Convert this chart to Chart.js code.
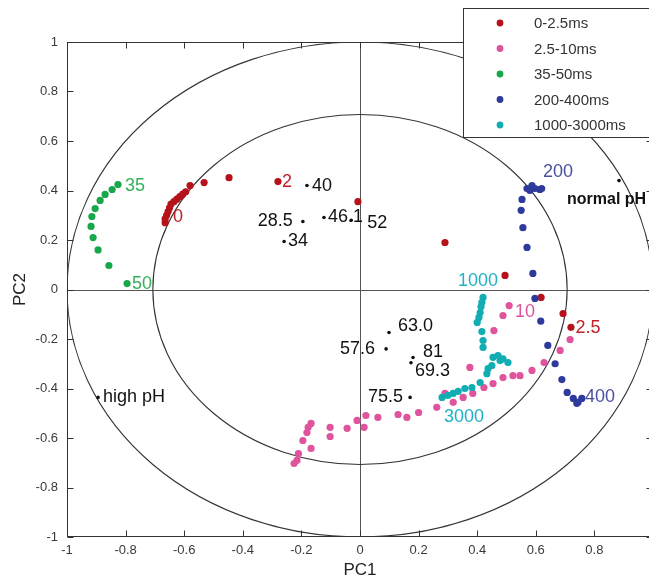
<!DOCTYPE html>
<html><head><meta charset="utf-8">
<script src="https://cdn.jsdelivr.net/npm/chart.js@4"></script>
<style>html,body{margin:0;padding:0;overflow:hidden;background:#fff}canvas{display:block}</style>
</head><body>
<canvas id="c" width="670" height="582"></canvas>
<script>
// ---------- data ----------
const seriesNames = ['0-2.5ms','2.5-10ms','35-50ms','200-400ms','1000-3000ms'];

const red_x = [-0.665,-0.665,-0.66,-0.655,-0.65,-0.645,-0.635,-0.625,-0.615,-0.605,-0.595,-0.58,-0.532,-0.447,-0.28,-0.007,0.29,0.495,0.618,0.693,0.72];
const red_y = [0.27,0.285,0.30,0.315,0.33,0.345,0.355,0.365,0.375,0.385,0.395,0.42,0.432,0.452,0.436,0.355,0.19,0.057,-0.032,-0.097,-0.153];

const pink_x = [0.717,0.683,0.628,0.587,0.546,0.522,0.488,0.454,0.423,0.385,0.352,0.318,0.29,0.262,0.20,0.16,0.13,0.061,0.02,-0.01,0.014,-0.044,-0.102,-0.102,-0.167,-0.177,-0.181,-0.195,-0.167,-0.21,-0.225,-0.215,0.375,0.457,0.488,0.509];
const pink_y = [-0.202,-0.246,-0.295,-0.327,-0.348,-0.348,-0.356,-0.38,-0.396,-0.42,-0.436,-0.456,-0.42,-0.476,-0.497,-0.517,-0.505,-0.517,-0.509,-0.529,-0.557,-0.561,-0.557,-0.594,-0.541,-0.557,-0.578,-0.61,-0.642,-0.663,-0.703,-0.69,-0.315,-0.166,-0.105,-0.065];

const green_x = [-0.826,-0.846,-0.870,-0.887,-0.904,-0.915,-0.918,-0.911,-0.894,-0.857,-0.795];
const green_y = [0.424,0.404,0.384,0.36,0.327,0.295,0.255,0.21,0.16,0.097,0.024];

const blue_x = [0.57,0.587,0.597,0.614,0.62,0.58,0.553,0.55,0.556,0.57,0.59,0.597,0.617,0.641,0.666,0.689,0.707,0.728,0.744,0.757,0.74];
const blue_y = [0.408,0.42,0.408,0.404,0.408,0.40,0.364,0.32,0.25,0.17,0.065,-0.036,-0.128,-0.226,-0.30,-0.364,-0.416,-0.44,-0.456,-0.44,-0.46];

const cyan_x = [0.42,0.416,0.413,0.41,0.406,0.40,0.416,0.42,0.42,0.454,0.471,0.488,0.505,0.478,0.45,0.437,0.433,0.41,0.382,0.358,0.335,0.318,0.30,0.28];
const cyan_y = [-0.032,-0.052,-0.07,-0.093,-0.113,-0.133,-0.17,-0.206,-0.234,-0.274,-0.267,-0.28,-0.295,-0.287,-0.307,-0.32,-0.34,-0.376,-0.396,-0.40,-0.412,-0.42,-0.428,-0.436];

// reference (black) points
const markerNames = ['40','28.5','46.1','52','34','63.0','57.6','81','69.3','75.5','high pH','normal pH'];
const markerX = [-0.181,-0.195,-0.123,-0.03,-0.259,0.099,0.089,0.181,0.174,0.171,-0.894,0.884];
const markerY = [0.42,0.275,0.291,0.28,0.194,-0.174,-0.24,-0.275,-0.296,-0.436,-0.436,0.44];

// time annotations of the series
const annoText = ['0','2','2.5','10','35','50','200','400','1000','3000'];
const annoSeries = [0,0,0,1,2,2,3,3,4,4];
const annoX = [-0.621,-0.249,0.778,0.563,-0.768,-0.744,0.676,0.819,0.403,0.355];
const annoY = [0.291,0.436,-0.154,-0.093,0.42,0.024,0.473,-0.436,0.036,-0.517];

const tickValues = [-1,-0.8,-0.6,-0.4,-0.2,0,0.2,0.4,0.6,0.8,1];
const circleRadii = [1, 0.707];

// ---------- styles ----------
const FONT = '"Liberation Sans", Arial, sans-serif';
const pointColors = ['#b5121b','#e0539d','#18a84b','#2e3a9c','#12adb3'];
const textColors  = ['#c0202a','#d9559c','#35b05a','#4a4fa0','#22b1c2'];
const markerStyle = [ // dx, dy, align, font
  [5,0,'left','18px'],[-10,0,'right','18px'],[4,0,'left','18px'],[16,3,'left','18px'],[4,0,'left','18px'],
  [9,-7,'left','18px'],[-11,0,'right','18px'],[10,-6,'left','18px'],[4,8,'left','18px'],[-7,0,'right','18px'],
  [5,0,'left','18px'],[-52,19,'left','bold 16px']
];

const xy = (xs, ys) => xs.map((v,i)=>({x:v, y:ys[i]}));
const seriesData = [xy(red_x,red_y), xy(pink_x,pink_y), xy(green_x,green_y), xy(blue_x,blue_y), xy(cyan_x,cyan_y)];

const datasets = seriesNames.map((n,i)=>({
  label:n, data:seriesData[i], backgroundColor:pointColors[i], borderWidth:0,
  pointRadius:3.6, pointHoverRadius:3.6, order:[4,5,3,2,1][i]
}));
datasets.push({label:'markers', data:xy(markerX,markerY), backgroundColor:'#111', borderWidth:0, pointRadius:1.8, order:0});

const fmt = v => String(Number(v.toFixed(1)));

const decor = {
  id:'decor',
  beforeDatasetsDraw(chart){
    const {ctx, chartArea:a, scales:{x,y}} = chart;
    ctx.save();
    ctx.beginPath(); ctx.rect(a.left,a.top,a.right-a.left,a.bottom-a.top); ctx.clip();
    const x0 = x.getPixelForValue(0), y0 = y.getPixelForValue(0);
    ctx.strokeStyle = '#555'; ctx.lineWidth = 1;
    ctx.beginPath();
    ctx.moveTo(Math.round(x0)+0.5, a.top); ctx.lineTo(Math.round(x0)+0.5, a.bottom);
    ctx.moveTo(a.left, Math.round(y0)+0.5); ctx.lineTo(a.right, Math.round(y0)+0.5);
    ctx.stroke();
    ctx.strokeStyle = '#333'; ctx.lineWidth = 1.1;
    circleRadii.forEach(r=>{
      ctx.beginPath();
      ctx.ellipse(x0, y0, x.getPixelForValue(r)-x0, y0-y.getPixelForValue(r), 0, 0, 2*Math.PI);
      ctx.stroke();
    });
    ctx.restore();
  },
  afterDatasetsDraw(chart){
    const {ctx, scales:{x,y}} = chart;
    ctx.save();
    ctx.textBaseline = 'middle';
    ctx.fillStyle = '#111';
    markerNames.forEach((t,i)=>{
      const s = markerStyle[i];
      ctx.textAlign = s[2];
      ctx.font = s[3] + ' ' + FONT;
      ctx.fillText(t, x.getPixelForValue(markerX[i])+s[0], y.getPixelForValue(markerY[i])+s[1]);
    });
    ctx.font = '18px ' + FONT;
    ctx.textAlign = 'center';
    annoText.forEach((t,i)=>{
      ctx.fillStyle = textColors[annoSeries[i]];
      ctx.fillText(t, x.getPixelForValue(annoX[i]), y.getPixelForValue(annoY[i]));
    });
    ctx.restore();
  },
  afterDraw(chart){
    const {ctx, chartArea:a, scales:{x,y}} = chart;
    ctx.save();
    ctx.strokeStyle = '#333'; ctx.lineWidth = 1;
    const L = Math.round(a.left)+0.5, R = Math.round(a.right)-0.5, T = Math.round(a.top)+0.5, B = Math.round(a.bottom)-0.5;
    ctx.strokeRect(L, T, R-L, B-T);
    ctx.beginPath();
    tickValues.forEach(v=>{
      const px = Math.round(x.getPixelForValue(v))+0.5;
      ctx.moveTo(px,B); ctx.lineTo(px,B-6); ctx.moveTo(px,T); ctx.lineTo(px,T+6);
      const py = Math.round(y.getPixelForValue(v))+0.5;
      ctx.moveTo(L,py); ctx.lineTo(L+6,py); ctx.moveTo(R,py); ctx.lineTo(R-6,py);
    });
    ctx.stroke();
    // legend
    const lx = 463.5, ly = 8.5, lw = 210, lh = 129;
    ctx.fillStyle = '#fff'; ctx.fillRect(lx, ly, lw, lh);
    ctx.strokeStyle = '#333'; ctx.strokeRect(lx, ly, lw, lh);
    ctx.font = '15px ' + FONT;
    ctx.textBaseline = 'middle'; ctx.textAlign = 'left';
    chart.data.datasets.slice(0,5).forEach((d,i)=>{
      const cy = 23 + i*25.5;
      ctx.fillStyle = d.backgroundColor;
      ctx.beginPath(); ctx.arc(500, cy, 3.4, 0, 2*Math.PI); ctx.fill();
      ctx.fillStyle = '#333';
      ctx.fillText(d.label, 534, cy+1);
    });
    ctx.restore();
  }
};

new Chart(document.getElementById('c'), {
  type:'scatter',
  data:{datasets},
  options:{
    responsive:false, animation:false, devicePixelRatio:1,
    layout:{padding:{top:42, right:17, left:0, bottom:0}},
    plugins:{legend:{display:false}, tooltip:{enabled:false}},
    scales:{
      x:{type:'linear', min:-1, max:1,
        afterBuildTicks:s=>{s.ticks = tickValues.map(v=>({value:v}));},
        afterFit:s=>{s.height = 45;},
        grid:{display:false, drawTicks:false}, border:{display:false},
        ticks:{autoSkip:false, maxRotation:0, padding:6, color:'#3a3a3a', font:{family:FONT, size:13}, callback:v=>fmt(v)},
        title:{display:true, text:'PC1', color:'#222', font:{family:FONT, size:17}, padding:{top:0,bottom:1}}
      },
      y:{type:'linear', min:-1, max:1,
        afterBuildTicks:s=>{s.ticks = tickValues.map(v=>({value:v}));},
        afterFit:s=>{s.width = 67;},
        grid:{display:false, drawTicks:false}, border:{display:false},
        ticks:{autoSkip:false, padding:9, color:'#3a3a3a', font:{family:FONT, size:13}, callback:v=>fmt(v)},
        title:{display:true, text:'PC2', color:'#222', font:{family:FONT, size:17}, padding:{top:10,bottom:0}}
      }
    }
  },
  plugins:[decor]
});
</script>
</body></html>
